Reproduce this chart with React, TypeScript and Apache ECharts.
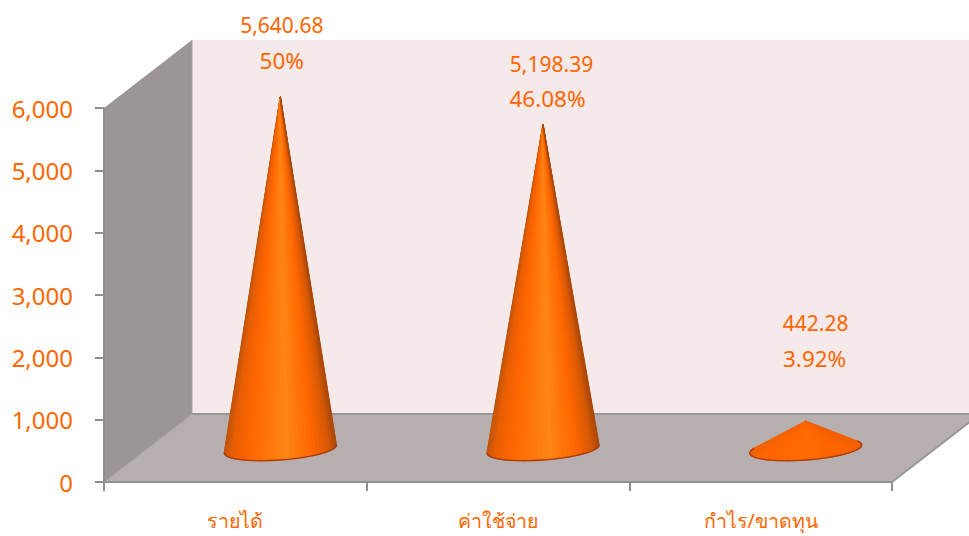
import React, { useEffect, useRef } from "react";
import * as echarts from "echarts";

const categories = ["รายได้", "ค่าใช้จ่าย", "กำไร/ขาดทุน"];
const amounts = [5640.68, 5198.39, 442.28];
const shares = ["50%", "46.08%", "3.92%"];
const yTicks = [0, 1000, 2000, 3000, 4000, 5000, 6000];

const ORANGE = "#ff6600";
const FONT = '"Noto Sans", "DejaVu Sans", sans-serif';
const W = 969, H = 536;
const G = { left: 104, top: 108, width: 788, height: 374 };
const DEPTH_X = 88, DEPTH_Y = 68;
// where the 3D base of a cone sits relative to the flat axis position
const BASE_DX = 45, BASE_DY = -33;
const RX = 56, RY = 11, SHEAR = 4;
// label placement, relative to the cone's apex
const labelDx = [1.5, 8.5, 10];
const labelDy = [-72, -61, -98];
const shareDx = [0, -4, -1];
const LINE_GAP = 35;
const SLICES = 36;

function mix(a: number[], b: number[], t: number) {
  return a.map((v, i) => Math.round(v + (b[i] - v) * t));
}
const stops: [number, number[]][] = [
  [0, [190, 84, 12]],
  [0.07, [232, 94, 4]],
  [0.22, [255, 102, 0]],
  [0.56, [255, 134, 22]],
  [0.8, [255, 102, 0]],
  [0.94, [214, 88, 6]],
  [1, [172, 72, 10]],
];
function shade(t: number, flat: number) {
  let c = stops[stops.length - 1][1];
  const u = Math.min(1, Math.max(0, t));
  for (let i = 1; i < stops.length; i++) {
    if (u <= stops[i][0]) {
      const [t0, c0] = stops[i - 1];
      const [t1, c1] = stops[i];
      c = mix(c0, c1, (u - t0) / (t1 - t0));
      break;
    }
  }
  c = mix(c, [255, 102, 0], flat);
  return `rgb(${c[0]},${c[1]},${c[2]})`;
}

function renderCone(params: any, api: any) {
  const i = api.value(0);
  const v = api.value(1);
  const base = api.coord([i, 0]);
  const top = api.coord([i, v]);
  const cx = base[0] + BASE_DX;
  const cy = base[1] + BASE_DY;
  const ax = cx;
  const ay = top[1] + BASE_DY;
  const pt = (th: number) => [cx - RX * Math.cos(th), cy + RY * Math.sin(th) + SHEAR * Math.cos(th)];
  // silhouette tangents from the apex onto the base ellipse
  let th0 = 0, th1 = Math.PI, best0 = -Infinity, best1 = -Infinity;
  for (let k = 0; k <= 80; k++) {
    const d = (k / 80) * 1.3;
    const a = pt(-d);
    const b = pt(Math.PI + d);
    const sa = (ax - a[0]) / (a[1] - ay);
    const sb = (b[0] - ax) / (b[1] - ay);
    if (sa > best0) { best0 = sa; th0 = -d; }
    if (sb > best1) { best1 = sb; th1 = Math.PI + d; }
  }
  const at = (s: number) => th0 + ((th1 - th0) * s) / SLICES;
  const flat = Math.min(0.85, Math.max(0, 1 - (cy - ay) / 160));
  const children: any[] = [];
  for (let s = 0; s < SLICES; s++) {
    const a = pt(at(s));
    const b = pt(at(s + 1));
    const col = shade(((a[0] + b[0]) / 2 - (cx - RX)) / (2 * RX), flat);
    children.push({
      type: "polygon",
      shape: { points: [[ax, ay], a, b] },
      style: { fill: col, stroke: col, lineWidth: 1.2, lineJoin: "round" },
    });
  }
  const rim: number[][] = [];
  for (let s = 0; s <= SLICES; s++) rim.push(pt(at(s)));
  children.push({
    type: "polyline",
    shape: { points: rim },
    style: { fill: "none", stroke: "#a83c14", lineWidth: 1.4 },
  });
  const lx = ax + labelDx[i];
  const ly = ay + labelDy[i];
  children.push({
    type: "text",
    style: { text: amounts[i].toLocaleString("en-US", { minimumFractionDigits: 2 }), x: lx, y: ly, align: "center", verticalAlign: "middle", fill: ORANGE, font: `21px ${FONT}` },
  });
  children.push({
    type: "text",
    style: { text: shares[i], x: lx + shareDx[i], y: ly + LINE_GAP, align: "center", verticalAlign: "middle", fill: ORANGE, font: `22.5px ${FONT}` },
  });
  return { type: "group", children };
}

export default function App() {
  const ref = useRef<HTMLDivElement>(null);
  useEffect(() => {
    const chart = echarts.init(ref.current!, null, { renderer: "svg" });
    const x0 = G.left, y0 = G.top + G.height, x1 = G.left + G.width;
    const bx = x0 + DEPTH_X, by = y0 - DEPTH_Y, ty = G.top - DEPTH_Y;
    const edge = "#9a9696";
    chart.setOption({
      animation: false,
      backgroundColor: "#ffffff",
      grid: { left: G.left, top: G.top, width: G.width, height: G.height },
      graphic: {
        elements: [
          { type: "rect", z: -3, silent: true, shape: { x: bx, y: ty, width: W - bx, height: by - ty }, style: { fill: "#f5e9e9" } },
          { type: "polygon", z: -3, silent: true, shape: { points: [[x0, G.top], [bx, ty], [bx, by], [x0, y0]] }, style: { fill: "#9b9594" } },
          { type: "polygon", z: -3, silent: true, shape: { points: [[x0, y0], [bx, by], [x1 + DEPTH_X, by], [x1, y0]] }, style: { fill: "#b7afaf" } },
          { type: "line", z: -2, silent: true, shape: { x1: bx, y1: by, x2: W, y2: by }, style: { stroke: edge, lineWidth: 2 } },
          { type: "line", z: -2, silent: true, shape: { x1: bx, y1: ty, x2: bx, y2: by }, style: { stroke: "#a8a2a0", lineWidth: 1 } },
          { type: "line", z: -2, silent: true, shape: { x1: x0, y1: y0, x2: bx, y2: by }, style: { stroke: "#a09a98", lineWidth: 1 } },
          { type: "line", z: -2, silent: true, shape: { x1: x1, y1: y0, x2: x1 + DEPTH_X, y2: by }, style: { stroke: edge, lineWidth: 2 } },
        ],
      },
      xAxis: {
        type: "category",
        data: categories,
        axisLine: { lineStyle: { color: "#8f8f8f", width: 2 } },
        axisTick: { show: true, length: 9, lineStyle: { color: "#8f8f8f", width: 2 } },
        axisLabel: { color: ORANGE, fontSize: 19.6, fontFamily: FONT, margin: 28, interval: 0 },
      },
      yAxis: {
        type: "value",
        min: yTicks[0],
        max: yTicks[yTicks.length - 1],
        interval: 1000,
        splitLine: { show: false },
        axisLine: { show: true, lineStyle: { color: "#8f8f8f", width: 2 } },
        axisTick: { show: true, length: 9, lineStyle: { color: "#8f8f8f", width: 2 } },
        axisLabel: {
          color: ORANGE,
          fontSize: 24,
          fontFamily: FONT,
          margin: 31,
          padding: [12, 0, 0, 0],
          formatter: (v: number) => v.toLocaleString("en-US"),
        },
      },
      series: [
        {
          type: "custom",
          silent: true,
          renderItem: renderCone,
          encode: { x: 0, y: 1 },
          data: amounts.map((v, i) => [i, v]),
        },
      ],
    });
    return () => chart.dispose();
  }, []);
  return <div ref={ref} style={{ position: "fixed", left: 0, top: 0, width: W, height: H }} />;
}
